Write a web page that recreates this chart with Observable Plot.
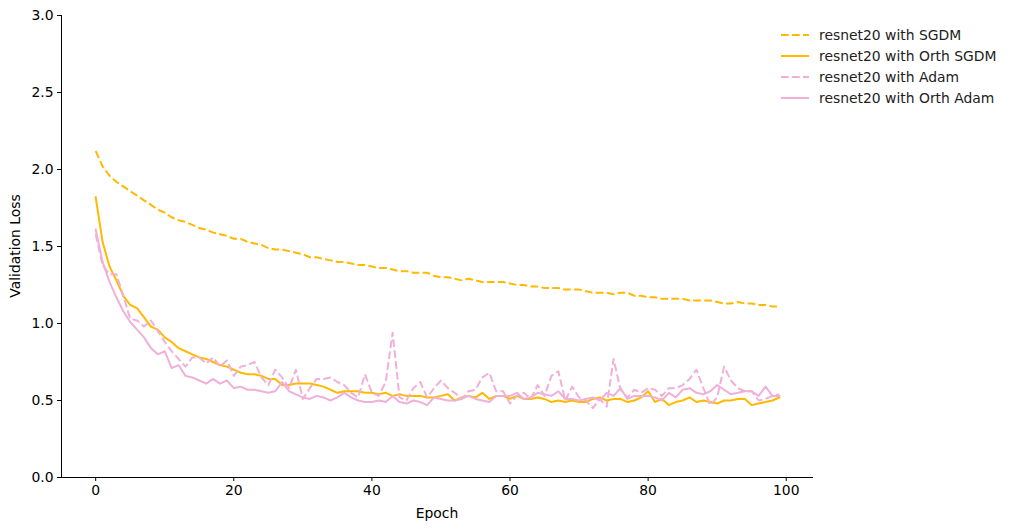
<!DOCTYPE html>
<html>
<head>
<meta charset="utf-8">
<script src="https://cdn.jsdelivr.net/npm/d3@7"></script>
<script src="https://cdn.jsdelivr.net/npm/@observablehq/plot@0.6"></script>
<style>
  html, body { margin: 0; padding: 0; background: #fff; }
  #wrap { position: relative; width: 1012px; height: 530px; font-family: "DejaVu Sans", sans-serif; }
  #legend { position: absolute; left: 780px; top: 24px; font-size: 13.9px; color: #222; }
  #legend .row { display: flex; align-items: center; height: 21px; }
  #legend svg { margin-right: 9px; }
</style>
</head>
<body>
<div id="wrap"><div id="chart"></div><div id="legend"></div></div>
<script>
const seriesNames = ["resnet20 with SGDM", "resnet20 with Orth SGDM", "resnet20 with Adam", "resnet20 with Orth Adam"];
const seriesColors = ["#FFB900", "#FFB900", "#F0B0D8", "#F0B0D8"];
const seriesDashed = [true, false, true, false];
const xTicks = [0, 20, 40, 60, 80, 100];
const yTicks = [0, 0.5, 1, 1.5, 2, 2.5, 3];

const sgdm = [2.12,2.02,1.96,1.92,1.89,1.86,1.83,1.80,1.77,1.74,1.72,1.69,1.67,1.66,1.64,1.62,1.61,1.59,1.58,1.57,
1.55,1.55,1.53,1.52,1.51,1.49,1.48,1.48,1.47,1.46,1.45,1.43,1.43,1.42,1.41,1.40,1.40,1.39,1.38,1.38,
1.37,1.36,1.36,1.35,1.34,1.34,1.33,1.33,1.33,1.31,1.30,1.30,1.29,1.28,1.29,1.28,1.27,1.27,1.27,1.27,
1.26,1.25,1.25,1.24,1.24,1.23,1.23,1.23,1.22,1.22,1.22,1.21,1.20,1.20,1.20,1.19,1.20,1.20,1.18,1.18,
1.17,1.17,1.16,1.16,1.16,1.16,1.15,1.15,1.15,1.15,1.14,1.13,1.13,1.14,1.13,1.13,1.12,1.12,1.11,1.11];

const orthSgdm = [1.82,1.53,1.37,1.28,1.18,1.12,1.10,1.04,0.98,0.96,0.91,0.88,0.84,0.82,0.80,0.78,0.77,0.75,0.73,0.72,
0.70,0.68,0.67,0.67,0.66,0.64,0.64,0.60,0.60,0.61,0.61,0.61,0.60,0.59,0.57,0.55,0.56,0.56,0.56,0.55,
0.55,0.54,0.55,0.53,0.54,0.53,0.53,0.53,0.52,0.52,0.53,0.54,0.50,0.52,0.53,0.52,0.55,0.51,0.53,0.53,
0.51,0.53,0.51,0.51,0.52,0.51,0.49,0.50,0.49,0.50,0.49,0.49,0.51,0.52,0.50,0.51,0.51,0.49,0.50,0.52,
0.56,0.49,0.51,0.47,0.49,0.50,0.52,0.49,0.50,0.49,0.48,0.50,0.50,0.51,0.51,0.47,0.48,0.49,0.50,0.52];

const adam = [1.58,1.38,1.32,1.32,1.18,1.03,1.02,0.98,1.02,0.95,0.88,0.82,0.77,0.72,0.78,0.78,0.74,0.78,0.72,0.76,
0.66,0.72,0.73,0.75,0.65,0.60,0.70,0.65,0.58,0.70,0.51,0.58,0.64,0.64,0.65,0.62,0.60,0.55,0.52,0.67,
0.55,0.53,0.62,0.94,0.52,0.50,0.58,0.62,0.52,0.58,0.63,0.58,0.55,0.51,0.56,0.57,0.65,0.68,0.56,0.56,
0.48,0.53,0.55,0.51,0.60,0.53,0.66,0.69,0.50,0.59,0.52,0.50,0.45,0.51,0.46,0.77,0.57,0.52,0.57,0.55,
0.58,0.57,0.53,0.58,0.58,0.60,0.64,0.70,0.58,0.47,0.52,0.72,0.63,0.58,0.56,0.56,0.50,0.51,0.53,0.54];

const orthAdam = [1.61,1.40,1.27,1.17,1.08,1.01,0.96,0.91,0.84,0.80,0.82,0.71,0.73,0.66,0.65,0.63,0.61,0.64,0.61,0.63,
0.58,0.59,0.57,0.57,0.56,0.55,0.56,0.62,0.56,0.54,0.52,0.51,0.53,0.52,0.50,0.52,0.55,0.52,0.50,0.49,
0.49,0.50,0.49,0.53,0.49,0.48,0.50,0.49,0.47,0.52,0.51,0.50,0.50,0.51,0.53,0.51,0.50,0.49,0.53,0.53,
0.53,0.55,0.51,0.52,0.55,0.54,0.53,0.56,0.51,0.51,0.50,0.51,0.52,0.50,0.55,0.53,0.58,0.51,0.53,0.53,
0.53,0.52,0.50,0.55,0.52,0.57,0.58,0.55,0.54,0.56,0.60,0.57,0.54,0.55,0.56,0.56,0.53,0.59,0.53,0.53];

const allSeries = [sgdm, orthSgdm, adam, orthAdam];
const rows = [];
allSeries.forEach((vals, s) => vals.forEach((v, i) => rows.push({epoch: i, loss: v, series: seriesNames[s]})));

const xDomain = [-4.95, 103.95];
const lineWidth = 2;
const fs = 13.9;
const marks = [];
seriesNames.forEach((name, s) => {
  marks.push(Plot.line(rows.filter(d => d.series === name), {
    x: "epoch", y: "loss",
    stroke: seriesColors[s], strokeWidth: lineWidth,
    strokeDasharray: seriesDashed[s] ? "7.7,3.3" : null,
    strokeLinejoin: "round", strokeLinecap: seriesDashed[s] ? "butt" : "square"
  }));
});
marks.push(Plot.ruleX([xDomain[0]], {stroke: "#000", strokeWidth: 1}));
marks.push(Plot.ruleY([0], {stroke: "#000", strokeWidth: 1}));
marks.push(Plot.axisX({ticks: xTicks, tickSize: 4, tickPadding: 4, fontSize: fs, label: null, tickFormat: d => String(d)}));
marks.push(Plot.axisY({ticks: yTicks, tickSize: 4, tickPadding: 4, fontSize: fs, label: null, tickFormat: d3.format(".1f")}));

const chart = Plot.plot({
  width: 1012, height: 530,
  marginLeft: 61, marginRight: 199, marginTop: 15, marginBottom: 53,
  x: {domain: xDomain},
  y: {domain: [0, 3]},
  style: {fontFamily: "DejaVu Sans, sans-serif", fontSize: fs + "px", color: "#000", background: "#fff"},
  marks
});
document.getElementById("chart").appendChild(chart);

const svg = d3.select(chart);
svg.append("text").attr("x", (61 + 813) / 2).attr("y", 518).attr("text-anchor", "middle")
  .attr("font-size", fs).attr("fill", "#000").text("Epoch");
svg.append("text").attr("transform", "translate(20," + ((15 + 477) / 2) + ") rotate(-90)")
  .attr("text-anchor", "middle").attr("font-size", fs).attr("fill", "#000").text("Validation Loss");

const legend = d3.select("#legend");
seriesNames.forEach((name, s) => {
  const row = legend.append("div").attr("class", "row");
  const sv = row.append("svg").attr("width", 30).attr("height", 10);
  sv.append("line").attr("x1", 1).attr("x2", 29).attr("y1", 5).attr("y2", 5)
    .attr("stroke", seriesColors[s]).attr("stroke-width", lineWidth)
    .attr("stroke-dasharray", seriesDashed[s] ? "7.7,3.3" : null);
  row.append("span").text(name);
});
</script>
</body>
</html>
